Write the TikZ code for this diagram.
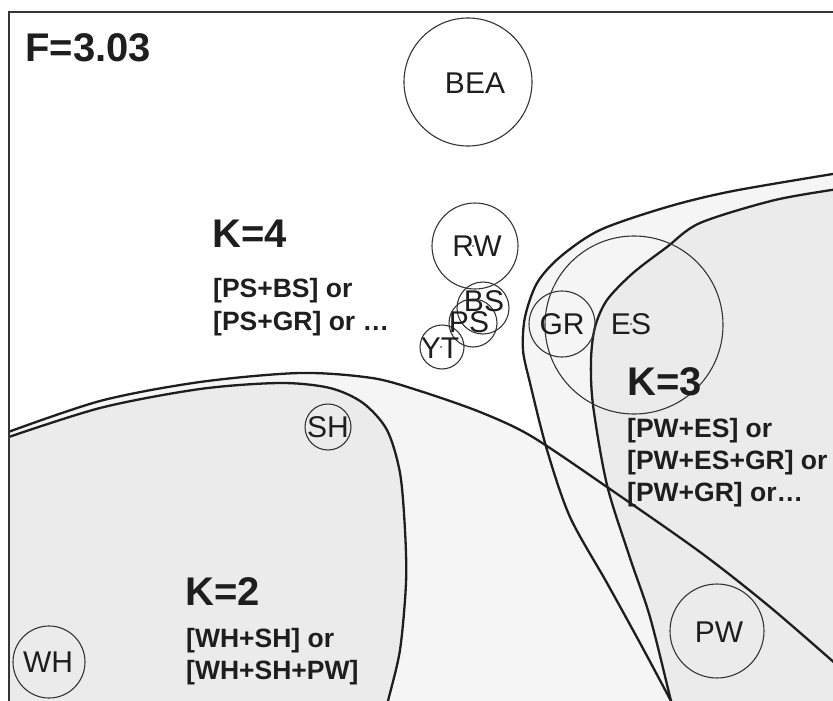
\documentclass[tikz,border=0pt]{standalone}
\usepackage{fontspec}
\setmainfont{Liberation Sans}
\definecolor{paler}{HTML}{F5F5F5}
\definecolor{deeper}{HTML}{EBEBEB}
\definecolor{ink}{HTML}{1E1E1E}
% hull outlines
\newcommand\curveBig{plot[smooth] coordinates {(0,435) (100,401) (200,382) (300,373) (372,378) (420,391) (480,412) (531,436) (607,487) (700,552) (770,607) (845,672)}}
\newcommand\curveTwo{plot[smooth] coordinates {(0,440) (100,408) (200,389) (280,383) (330,388) (363,403) (387,430) (400,473) (405,530) (406,583) (400,650) (388,701) (385,715)}}
\newcommand\curveThreeOut{plot[smooth] coordinates {(845,172) (733,191) (667,207) (600,230) (560,257) (537,283) (525,317) (523,350) (530,383) (547,450) (570,517) (607,583) (640,643) (671,701) (677,713)}}
\newcommand\curveThreeIn{plot[smooth] coordinates {(845,188) (775,200) (700,223) (667,247) (633,273) (607,300) (595,327) (591,360) (593,405) (607,485) (630,558) (650,617) (671,701) (674,713)}}
\begin{document}
\begin{tikzpicture}[x=1pt,y=-1pt,
  hull/.style={line width=2.3pt, draw=ink, line join=round},
  bub/.style={circle, draw=ink!90, line width=1.1pt, inner sep=0pt},
  centremark/.style={circle, fill=ink, inner sep=0pt, minimum size=1.8pt},
  lbl/.style={inner sep=0pt, font=\fontsize{30}{36}\selectfont, text height=21.5pt, text depth=0pt, text=ink},
  big/.style={inner sep=0pt, anchor=base west, font=\bfseries\fontsize{40}{48}\selectfont, text=ink},
  combo/.style={inner sep=0pt, anchor=base west, font=\bfseries\fontsize{26.5}{32}\selectfont, text=ink},
  frame/.style={line width=2pt, draw=ink!90}]
\useasboundingbox (0,0) rectangle (833,701);
\clip (0,0) rectangle (833,701);

% shaded hulls, clipped to the framed area
\begin{scope}
  \clip (9,12) rectangle (833,701);
  \fill[paler] \curveBig -- (845,720) -- (0,720) -- cycle;
  \fill[paler] \curveThreeOut -- (845,720) -- cycle;
  \fill[deeper] \curveThreeIn -- (845,720) -- cycle;
  \fill[deeper] \curveTwo -- (0,720) -- cycle;
  \draw[hull] \curveBig;
  \draw[hull] \curveTwo;
  \draw[hull] \curveThreeOut;
  \draw[hull] \curveThreeIn;
\end{scope}

% frame
\draw[frame] (9,710) -- (9,12) -- (845,12);

% species circles
\node[bub, minimum size=128pt] (cBEA) at (468,82) {};
\node[bub, minimum size=86pt] (cRW) at (475,246) {};
\node[bub, minimum size=52pt] (cBS) at (483,308) {};
\node[bub, minimum size=48pt] (cPS) at (473,323) {};
\node[bub, minimum size=44pt] (cYT) at (442,347) {};
\node[bub, minimum size=66pt] (cGR) at (562,324) {};
\node[bub, minimum size=178pt] (cES) at (634,325) {};
\node[bub, minimum size=46pt] (cSH) at (328,427) {};
\node[bub, minimum size=94pt] (cPW) at (717,631) {};
\node[bub, minimum size=72pt] (cWH) at (49,662) {};

\node[lbl] (tBEA) at (475,83) {BEA};
\node[lbl] (tRW) at (477,246) {RW};
\node[lbl] (tBS) at (484,301) {BS};
\node[lbl] (tPS) at (469,322) {PS};
\node[lbl] (tYT) at (440,348) {YT};
\node[lbl] (tGR) at (562,324) {GR};
\node[lbl] (tES) at (631,324) {ES};
\node[lbl] (tSH) at (328,427) {SH};
\node[lbl] (tPW) at (719,632) {PW};
\node[lbl] (tWH) at (48,662) {WH};

% small centre marks
\node[centremark] (mRW) at (473,246) {};
\node[centremark] (mYT) at (441,347) {};
\node[centremark] (mES) at (631,324) {};

% headings and combinations
\node[big] (F) at (25,62) {F=3.03};
\node[big] (K4) at (212,247) {K=4};
\node[combo] (K4a) at (213,297) {[PS+BS] or};
\node[combo] (K4b) at (213,330) {[PS+GR] or …};
\node[big] (K3) at (627,395) {K=3};
\node[combo] (K3a) at (627,437) {[PW+ES] or};
\node[combo] (K3b) at (627,469) {[PW+ES+GR] or};
\node[combo] (K3c) at (627,501) {[PW+GR] or…};
\node[big] (K2) at (185,605) {K=2};
\node[combo] (K2a) at (186,647) {[WH+SH] or};
\node[combo] (K2b) at (186,679) {[WH+SH+PW]};
\end{tikzpicture}
\end{document}
